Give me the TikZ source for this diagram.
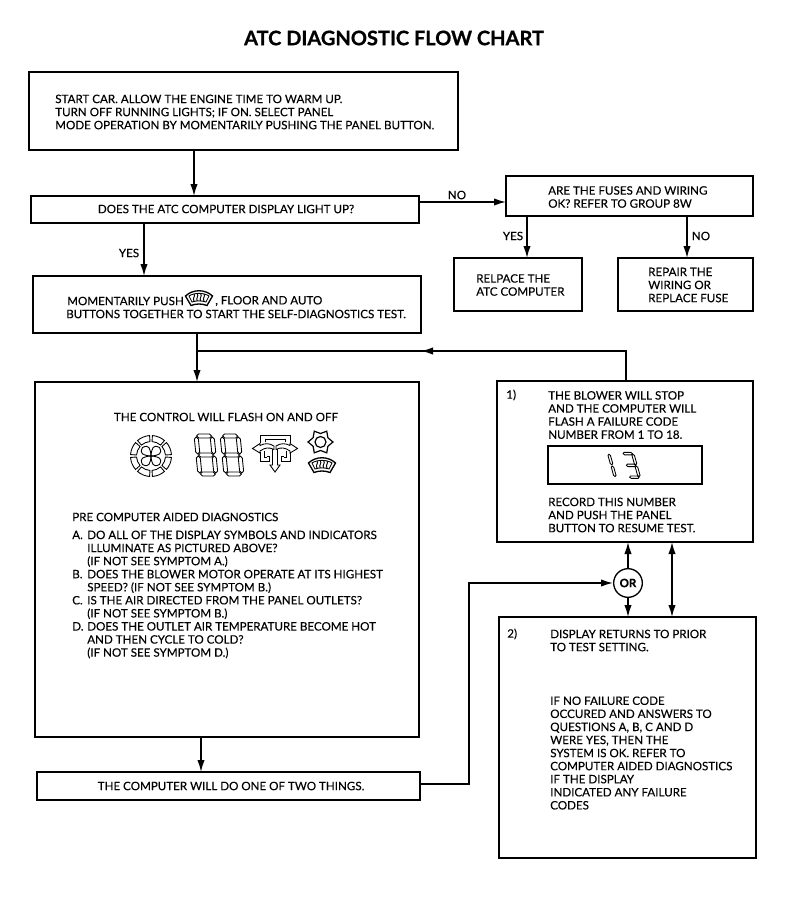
\documentclass[tikz,border=0pt]{standalone}
\usepackage{fontspec}
\setmainfont{Lato}[FakeBold=0.2,BoldFeatures={FakeBold=0.8}]
\usetikzlibrary{arrows.meta,calc}
\newcommand\mkbox[5]{\node[flowbox,minimum width={(#4-#2)*0.75pt},minimum height={(#5-#3)*0.75pt}] (#1) at (#2,#3) {};}
\newcommand\hseg[1]{\draw[icon] (1.5,#1) -- (3.5,#1-2) -- (14.5,#1-2) -- (16.5,#1) -- (14.5,#1+2) -- (3.5,#1+2) -- cycle;}
\newcommand\vseg[3]{\draw[icon] (#1,#2) -- (#1+2,#2+2) -- (#1+2,#3-2) -- (#1,#3) -- (#1-2,#3-2) -- (#1-2,#2+2) -- cycle;}
\newcommand\lbl[1]{\makebox[11.25pt][l]{#1}}
\tikzset{
  flowbox/.style={draw,line width=1pt,anchor=north west,inner sep=0pt,outer sep=0pt},
  conn/.style={line width=1pt},
  arr/.style={conn,-{Latex[length=9pt,width=5.5pt]}},
  txt/.style={anchor=west,align=left,inner sep=0pt,font=\fontsize{8.7}{9.8}\selectfont},
  ctxt/.style={anchor=center,align=center,inner sep=0pt,font=\fontsize{8.7}{9.8}\selectfont},
  icon/.style={line width=0.65pt},
  eightdigit/.pic={\hseg{1}\hseg{20}\hseg{39}\vseg{1}{2}{19}\vseg{17}{2}{19}\vseg{1}{21}{38}\vseg{17}{21}{38}},
  onedigit/.pic={\vseg{17}{2}{19}\vseg{17}{21}{38}},
  threedigit/.pic={\hseg{1}\hseg{20}\hseg{39}\vseg{17}{2}{19}\vseg{17}{21}{38}},
  fanicon/.pic={
    \foreach \a in {0,45,...,315}{
      \draw[icon] (\a+4:14.5) arc[start angle=\a+4,end angle=\a+41,radius=14.5] -- (\a+41:20.5) arc[start angle=\a+41,end angle=\a+4,radius=20.5] -- cycle;}
    \foreach \a in {45,135,225,315}{
      \draw[icon] (0,0) .. controls (\a-40:8) and (\a-35:12) .. (\a:12) .. controls (\a+35:12) and (\a+40:8) .. (0,0);}
  },
  airicon/.pic={
    \draw[icon] (-15,0) -- (-15,-7.7) -- (15,-7.7) -- (15,0);
    \draw[icon] (-10,-1) -- (-10,-3.5) -- (10,-3.5) -- (10,-1);
    \draw[icon] (-22.5,5.5) -- (-15,0.5) -- (-15,2.5) .. controls (-10,0) and (-6,0) .. (-1,3) -- (-1,6.5) .. controls (-6,4) and (-10,4.5) .. (-15,8) -- (-15,10) -- cycle;
    \draw[icon] (22.5,5.5) -- (15,0.5) -- (15,2.5) .. controls (10,0) and (6,0) .. (1,3) -- (1,6.5) .. controls (6,4) and (10,4.5) .. (15,8) -- (15,10) -- cycle;
    \draw[icon] (-15,9) -- (-15,18) -- (-6,18) -- (-6,13) -- (-8.5,13);
    \draw[icon] (-11,8) -- (-11,14) -- (-8.5,14);
    \draw[icon] (15,9) -- (15,18) -- (6,18) -- (6,13) -- (8.5,13);
    \draw[icon] (11,8) -- (11,14) -- (8.5,14);
    \draw[icon] (-2.5,6) -- (-2.5,22) -- (-5,22) -- (0,29) -- (5,22) -- (2.5,22) -- (2.5,6);
  },
  sunicon/.pic={
    \draw[line width=0.9pt] (0:12.5) -- (30:8.5) -- (60:12.5) -- (90:8.5) -- (120:12.5) -- (150:8.5) -- (180:12.5) -- (210:8.5) -- (240:12.5) -- (270:8.5) -- (300:12.5) -- (330:8.5) -- cycle;
    \draw[line width=0.9pt] (0,0) circle (5.5);
  },
  defrosticon/.pic={
    \draw[line width=1pt] (-13.5,-2) .. controls (-6,-9) and (6,-9) .. (13.5,-2) -- (8,7.5) .. controls (3,5.5) and (-3,5.5) .. (-8,7.5) -- cycle;
    \draw[icon] (-10,-2) .. controls (-5,-5.5) and (5,-5.5) .. (10,-2) -- (7,4) .. controls (3,2.5) and (-3,2.5) .. (-7,4) -- cycle;
    \foreach \x in {-5,-1.7,1.7,5}{\draw[line width=0.7pt] (\x,-4) .. controls (\x+2,-2) and (\x-2,0) .. (\x,3);}
  },
}
\begin{document}
\begin{tikzpicture}[x=0.75pt,y=-0.75pt,>=Latex]
\useasboundingbox (0,0) rectangle (799,897);
\node[anchor=center,inner sep=0pt,font=\fontsize{15}{17}\selectfont\bfseries] (title) at (394,38) {ATC DIAGNOSTIC FLOW CHART};

\mkbox{start}{29}{72}{458}{150}
\mkbox{light}{31}{196}{419}{223}
\mkbox{fuses}{506}{176}{753}{216}
\mkbox{replace}{454}{258}{582}{311}
\mkbox{repair}{618}{258}{753}{311}
\mkbox{push}{33}{276}{421}{333}
\mkbox{main}{35}{382}{419}{737}
\mkbox{two}{37}{772}{420}{800}
\mkbox{one}{497}{381}{753}{542}
\mkbox{disp}{548}{446}{702}{484}
\mkbox{ret}{499}{617}{756}{858}
\node[draw,circle,line width=1pt,minimum size=21.5pt,inner sep=0pt,font=\fontsize{8.6}{10}\selectfont\bfseries] (or) at (628,583) {OR};

\node[txt] (t1) at (55,112) {START CAR. ALLOW THE ENGINE TIME TO WARM UP.\\TURN OFF RUNNING LIGHTS; IF ON. SELECT PANEL\\MODE OPERATION BY MOMENTARILY PUSHING THE PANEL BUTTON.};
\node[ctxt] (t2) at (226,209) {DOES THE ATC COMPUTER DISPLAY LIGHT UP?};
\node[txt] (t3) at (548,197) {ARE THE FUSES AND WIRING\\OK? REFER TO GROUP 8W};
\node[txt] (t4) at (476,285) {RELPACE THE\\ATC COMPUTER};
\node[txt] (t5) at (648,285) {REPAIR THE\\WIRING OR\\REPLACE FUSE};
\node[txt] (t6a) at (67,301) {MOMENTARILY PUSH};
\node[txt] (t6b) at (215,301) {, FLOOR AND AUTO};
\node[txt] (t6c) at (66,314) {BUTTONS TOGETHER TO START THE SELF-DIAGNOSTICS TEST.};
\node[ctxt] (t7) at (226,417) {THE CONTROL WILL FLASH ON AND OFF};
\node[txt] (t8) at (72,517) {PRE COMPUTER AIDED DIAGNOSTICS};
\node[txt] (t9) at (72,594.5) {\lbl{A.}DO ALL OF THE DISPLAY SYMBOLS AND INDICATORS\\
\lbl{}ILLUMINATE AS PICTURED ABOVE?\\
\lbl{}(IF NOT SEE SYMPTOM A.)\\
\lbl{B.}DOES THE BLOWER MOTOR OPERATE AT ITS HIGHEST\\
\lbl{}SPEED? (IF NOT SEE SYMPTOM B.)\\
\lbl{C.}IS THE AIR DIRECTED FROM THE PANEL OUTLETS?\\
\lbl{}(IF NOT SEE SYMPTOM B.)\\
\lbl{D.}DOES THE OUTLET AIR TEMPERATURE BECOME HOT\\
\lbl{}AND THEN CYCLE TO COLD?\\
\lbl{}(IF NOT SEE SYMPTOM D.)};
\node[ctxt] (t10) at (231,786) {THE COMPUTER WILL DO ONE OF TWO THINGS.};
\node[txt] (n1) at (506,395) {1)};
\node[txt] (t11) at (548,415) {THE BLOWER WILL STOP\\AND THE COMPUTER WILL\\FLASH A FAILURE CODE\\NUMBER FROM 1 TO 18.};
\node[txt] (t12) at (548,515) {RECORD THIS NUMBER\\AND PUSH THE PANEL\\BUTTON TO RESUME TEST.};
\node[txt] (n2) at (507,634) {2)};
\node[txt] (t13) at (550,640.5) {DISPLAY RETURNS TO PRIOR\\TO TEST SETTING.};
\node[txt] (t14) at (550,753) {IF NO FAILURE CODE\\OCCURED AND ANSWERS TO\\QUESTIONS A, B, C AND D\\WERE YES, THEN THE\\SYSTEM IS OK. REFER TO\\COMPUTER AIDED DIAGNOSTICS\\IF THE DISPLAY\\INDICATED ANY FAILURE\\CODES};

\node[ctxt] (lno1) at (457,195) {NO};
\node[ctxt] (lyes1) at (129,253) {YES};
\node[ctxt] (lyes2) at (513,236) {YES};
\node[ctxt] (lno2) at (701,236) {NO};

\coordinate (xa) at (194,0);
\coordinate (xb) at (144,0);
\coordinate (xc) at (197,0);
\coordinate (xd) at (201,0);
\coordinate (xe) at (527,0);
\coordinate (xf) at (687,0);
\coordinate (xg) at (626,0);
\coordinate (xh) at (672,0);
\coordinate (ya) at (0,202);
\coordinate (yb) at (0,351);
\coordinate (yc) at (0,784);
\coordinate (bend) at (469,0);
\coordinate (mid) at (421,351);

\draw[arr] (start.south -| xa) -- (light.north -| xa);
\draw[arr] (light.south -| xb) -- (push.north -| xb);
\draw[arr] (light.east |- ya) -- (fuses.west |- ya);
\draw[arr] (fuses.south -| xe) -- (replace.north -| xe);
\draw[arr] (fuses.south -| xf) -- (repair.north -| xf);
\draw[arr] (push.south -| xc) -- (main.north -| xc);
\draw[conn] (one.north -| xg) -- (yb -| xg) -- (yb -| xc);
\draw[arr] (yb -| xg) -- (mid);
\draw[arr] (main.south -| xd) -- (two.north -| xd);
\draw[arr] (two.east |- yc) -- (yc -| bend) -- (or.west -| bend) -- (or.west);
\draw[arr] (or.north) -- (one.south -| or);
\draw[arr] (or.south) -- (ret.north -| or);
\draw[conn,{Latex[length=9pt,width=5.5pt]}-{Latex[length=9pt,width=5.5pt]}] (one.south -| xh) -- (ret.north -| xh);

\pic at (151,456) {fanicon};
\pic[xslant=-0.1] at (195,435) {eightdigit};
\pic[xslant=-0.1] at (221,435) {eightdigit};
\pic at (275,443) {airicon};
\pic at (320.5,442) {sunicon};
\pic at (322,465) {defrosticon};
\pic[scale=0.62,xslant=-0.28] at (598,453) {onedigit};
\pic[scale=0.62,xslant=-0.28] at (622,453) {threedigit};
\pic at (199,298) {defrosticon};
\end{tikzpicture}
\end{document}
